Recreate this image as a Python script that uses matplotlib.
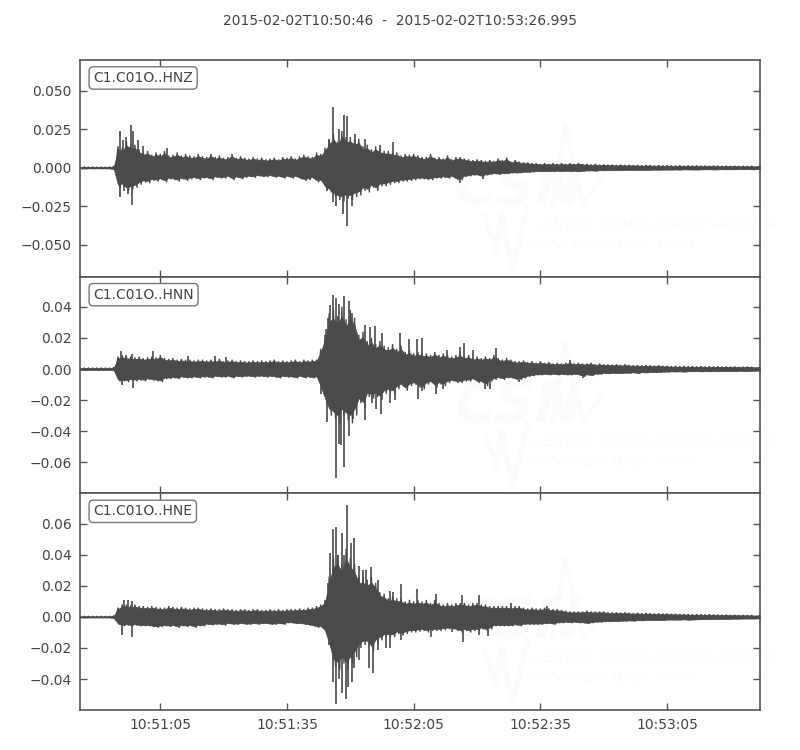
import numpy as np
import matplotlib
matplotlib.use("Agg")
import matplotlib.pyplot as plt

TITLE = "2015-02-02T10:50:46  -  2015-02-02T10:53:26.995"
CHANNELS = ["C1.C01O..HNZ", "C1.C01O..HNN", "C1.C01O..HNE"]
TICK_SECONDS = [19, 49, 79, 109, 139]
TICK_LABELS = ["10:51:05", "10:51:35", "10:52:05", "10:52:35", "10:53:05"]
DURATION = 160.995

# Peak envelope of each trace, one value per second, in units of 1e-3
HNZ_UP = [.4,.5,.4,.5,.4,.5,.4,.5,1.0,14,
 13,17,15,15,12,10,11,8.5,10,9,
 11,8,8.5,10,8,9,8,7.5,9,7.5,
 7,9,7,8,6.5,7,9,6.5,7.5,6.5,
 6,7,6,6.5,5.5,6,6.5,5.5,7,6.5,
 7.5,6,7.5,8.5,7.5,7,10,9,13,18,
 22,17,24,20,20,18,19,14,15,12,
 14,12,11,11,10,10,8,9,8.5,9,
 8,7,7,9,6.5,7,6,8,5.5,7,
 7,6,5.5,5,5.5,5,4.5,5,4.5,6,
 5,6.5,4,5,4,3.5,3.5,3,3,2.5,
 3,2.5,3,2.5,3,2.5,3,2.5,3.2,2.5,
 2.5,2.2,2.5,2,2.2,2,2,1.8,2,1.8,
 1.9,1.7,1.8,1.6,1.8,1.7,1.5,1.7,1.5,1.6,
 1.5,1.4,1.6,1.3,1.5,1.4,1.5,1.3,1.4,1.2,
 1.4,1.3,1.2,1.3,1.2,1.3,1.1,1.2,1.1,1.2,
 1.1]
HNZ_LO = [-.4,-.5,-.4,-.5,-.4,-.5,-.4,-.5,-1,-13,
 -12,-15,-14,-13,-11,-9.5,-10,-8.5,-9,-8,
 -9.5,-7.5,-8,-9,-7.5,-8.5,-7.5,-7,-8,-7,
 -7,-8,-6.5,-7,-7,-6,-8,-6.5,-7.5,-6.5,
 -6,-6.5,-5.5,-6,-6,-5.5,-6.5,-6,-7,-6,
 -7,-6,-7.5,-8.5,-8,-7,-9.5,-9,-14,-16,
 -19,-21,-22,-20,-21,-19,-18,-15,-16,-13,
 -15,-12,-12,-11,-10,-10,-9,-9,-8.5,-8,
 -7.5,-7.5,-8,-8,-7,-7,-6.5,-7,-6,-8,
 -8,-6,-5.5,-5,-5,-6,-5,-4.5,-4,-4.5,
 -4,-4,-3.5,-3.5,-3.5,-3,-3,-2.8,-2.5,-2.5,
 -2.5,-2.4,-2.5,-2.2,-2.5,-2.2,-2.4,-2.2,-2.6,-2.2,
 -2,-2,-2.2,-1.8,-1.9,-1.8,-1.8,-1.6,-1.8,-1.6,
 -1.7,-1.6,-1.6,-1.5,-1.6,-1.5,-1.4,-1.5,-1.4,-1.4,
 -1.4,-1.3,-1.4,-1.2,-1.3,-1.3,-1.4,-1.2,-1.2,-1.1,
 -1.3,-1.2,-1.1,-1.2,-1.1,-1.2,-1,-1.1,-1,-1.1,
 -1]
HNZ_PEAK_T = [9.4,10.2,11,12,12.6,13.8,15,20.5,59,60,61.3,62.4,63.1,65,67.5,71,74,
              9.5,10.5,11.4,12.2,58.5,60,60.7,62.2,63.1,64.5,90,95.5]
HNZ_PEAK_V = [23.8,18,20,28,24,18,14,13,19,39.6,25,34.6,34,22,19,15,17,
              -19,-15,-17,-24,-15,-22,-25,-30,-38,-25,-10,-7.5]

HNN_UP = [.7,.7,.7,.7,.7,.7,.7,.7,1,8,
 9,8,8,7.5,8,7,7.5,8,7.5,9,
 7,6.5,7,6,6.5,6,6,5.5,6,6,
 5.5,6,5.5,6.5,5,5.5,6,5,5.5,5,
 5,5.5,5,5.5,5,5.5,6,5,5.5,5,
 5.5,6,5,6,5.5,6,6,13,22,36,
 38,34,40,32,38,33,22,24,18,20,
 16,18,15,14,16,13,15,11,12,10,
 11,10,10,9,11,9,10,9,8,9,
 10,8,9,7,8,7,8,7,9,7,
 6,7,6,5,5,5.5,4.5,5,4,5,
 4,4.5,3.5,4,3.5,4,4.5,3.5,4,3.5,
 3.5,4,3,3.5,3,3,2.8,3,2.6,3,
 2.6,2.4,2.5,2.3,2.5,2.4,2.2,2.4,2,2,
 1.8,1.9,1.7,1.9,1.7,1.8,1.6,1.8,1.6,1.7,
 1.6,1.7,1.5,1.6,1.5,1.6,1.4,1.5,1.6,1.4,
 1.3]
HNN_LO = [-.7,-.7,-.7,-.7,-.7,-.7,-.7,-.7,-1,-8,
 -8,-8.5,-7.5,-8,-7.5,-8,-7,-7.5,-8,-8.5,
 -6.5,-6.5,-6,-6.5,-5.5,-6,-6,-5.5,-6,-5.5,
 -5.5,-6,-5,-5.5,-5.5,-5,-6,-5,-5.5,-5,
 -5,-5.5,-5,-5,-5.5,-5,-5.5,-6,-5,-5.5,
 -5.5,-6,-5,-6,-5.5,-6,-5.5,-13,-22,-30,
 -32,-35,-30,-33,-35,-30,-22,-25,-18,-19,
 -18,-20,-16,-15,-16,-13,-11,-14,-11,-10,
 -12,-13,-10,-9,-12,-10,-11,-9,-8,-9,
 -9,-8,-8,-7,-9,-9,-11,-8,-7,-6,
 -7,-6,-6,-7,-7,-6,-5,-4.5,-4,-4,
 -3.5,-4,-3.5,-4,-3.5,-4,-4,-3.5,-4,-5,
 -4,-4.5,-3.5,-3.5,-3,-3.2,-2.8,-3,-3,-2.8,
 -2.8,-2.5,-3,-2.4,-2.6,-2.2,-2.4,-2.2,-2,-2,
 -1.8,-1.9,-1.8,-2,-1.7,-1.7,-1.6,-1.8,-1.6,-1.7,
 -1.6,-1.7,-1.5,-1.6,-1.5,-1.6,-1.3,-1.4,-1.5,-1.3,
 -1.3]
HNN_PEAK_T = [9.7,11,12.3,17.3,25.5,32,34.5,58.3,58.7,59.3,59.8,60.6,61.3,62.5,63.7,64.4,67.4,68.7,69.9,71.5,75.7,77.8,79.7,81,87,90,91,93,98.6,116,
              10,12.5,57.1,58.4,60.5,61.3,61.8,62.5,63.7,64.7,67.4,69.2,70,71.3,73.3,74.5,80,81,84.4,86,96,97,104,119]
HNN_PEAK_V = [11.4,9,9.5,11.4,8.5,8.5,8,26,33,41,47.5,46,42,47,44,36,28.6,27,27.5,23,23,19,19,20,12.5,14,17,12,13.5,6,
              -10,-12,-16,-34,-70,-48,-49,-63,-43,-32,-33,-22,-26,-29,-22,-20,-19,-14,-16,-13,-13,-13,-8.4,-5.8]

HNE_UP = [.4,.4,.4,.4,.4,.4,.4,.4,.8,6,
 8,8,7.5,8,7,7,6.5,7,6.5,6,
 6,7,6.5,6,6.5,6,5.5,6,6,5.5,
 5,5.5,5,5,5.5,5,5,4.5,5,5,
 4.5,5,5,4.5,4.5,5,4.5,5,4.5,5,
 5,5,5.5,5,6,6,7,8,11,26,
 38,40,34,44,38,34,26,26,24,26,
 22,16,15,12,13,12,12,10,11,10,
 11,10,11,9,11,9,8,9,8,9,
 9,9,8,9,9,8,8,7,7,7,
 7,7,6.5,7,7,6,5.5,6,5.5,5.5,
 6,5.5,5,5,4.5,4,3.5,3.5,3.5,3.5,
 4,3.5,3.5,3.5,3.5,3,3,3,2.8,3,
 2.7,2.5,2.7,2.4,2.6,2.4,2.2,2.4,2.2,2.2,
 2,2,1.9,1.9,1.8,1.7,1.8,1.7,1.6,1.7,
 1.6,1.5,1.4,1.5,1.3,1.4,1.2,1.3,1.2,1.2,
 1.1]
HNE_LO = [-.4,-.4,-.4,-.4,-.4,-.4,-.4,-.4,-.8,-5,
 -6,-5.5,-6,-5.5,-6,-6,-6,-6.5,-7,-6.5,
 -6,-6.5,-6,-7,-6,-6.5,-6,-7,-6,-6,
 -5,-5.5,-5,-5,-5.5,-4.5,-5,-5,-4.5,-5,
 -5,-4.5,-5,-4.5,-4.5,-5,-5,-4.5,-5,-4,
 -4,-4.5,-4.5,-5,-5.5,-6,-7,-7,-10,-20,
 -32,-34,-30,-34,-30,-26,-20,-18,-18,-22,
 -17,-15,-13,-13,-13,-11,-12,-11,-10,-10,
 -9.5,-9,-10,-9,-9,-9,-8.5,-8,-8,-9,
 -10,-9,-10,-9,-9,-8,-9,-8,-6,-6,
 -6,-6,-6,-5.5,-6,-5,-5,-5,-5,-5,
 -4.5,-4.5,-5,-4,-4,-3.5,-4,-3.5,-4,-4,
 -4.5,-4,-3.5,-3.5,-3.2,-3.2,-3,-3,-2.8,-2.8,
 -2.6,-2.8,-2.4,-2.6,-2.2,-2.4,-2.2,-2.4,-2.2,-2,
 -2,-2,-2,-1.8,-2.1,-1.9,-1.8,-1.7,-1.6,-1.6,
 -1.5,-1.5,-1.4,-1.5,-1.4,-1.3,-1.3,-1.2,-1.2,-1.2,
 -1.1]
HNE_PEAK_T = [10.4,11.4,12.4,58.7,59.3,60,60.5,61,62,62.5,63.3,64.2,64.8,66,67,67.8,68.8,70.6,73.3,74,76,79.7,84.2,90.5,94.5,102,110.5,
              10,12.4,59,60,60.5,61.3,62,63,63.5,64.3,64.8,66,68.5,69.3,70.5,72.5,73.3,76,83,88,90.7,94.5,96.7]
HNE_PEAK_V = [11,11,10,21.7,41,57,58,40,54,40,72,48,51,33,30,30,32,24,17,16,21,18,15,14,14,9,7,
              -11.6,-13,-18,-42,-56,-40,-49,-53,-45,-42,-33,-28,-33,-36,-21,-20,-20,-15,-13,-10,-16,-11.6,-12]

SERIES = [(HNZ_UP, HNZ_LO, HNZ_PEAK_T, HNZ_PEAK_V),
          (HNN_UP, HNN_LO, HNN_PEAK_T, HNN_PEAK_V),
          (HNE_UP, HNE_LO, HNE_PEAK_T, HNE_PEAK_V)]
YLIMS = [(-0.0708, 0.0701), (-0.0800, 0.0594), (-0.0600, 0.0797)]
YTICKS = [[-0.05, -0.025, 0, 0.025, 0.05],
          [-0.06, -0.04, -0.02, 0, 0.02, 0.04],
          [-0.04, -0.02, 0, 0.02, 0.04, 0.06]]
YFMT = ["%.3f", "%.2f", "%.2f"]

INK = "#4a4a4a"
TXT = "#444444"
FRAME = "#555555"
WM = "#fbfbfb"
CORE = 0.85   # share of each envelope value that appears as the solid core

fig, axes = plt.subplots(3, 1, figsize=(8, 7.5), dpi=100, sharex=True)
fig.subplots_adjust(left=0.1, right=0.95, top=0.92, bottom=0.0533, hspace=0)
fig.text(0.5, 0.972, TITLE, ha="center", va="center", fontsize=10, color=TXT)


def watermark(ax):
    tr = ax.transAxes
    def px(x, y):
        return (x - 80) / 680.0, 1 - (y - 60) / 216.7
    kw = dict(transform=tr, color=WM, style="italic", zorder=0, clip_on=False)
    ax.text(*px(455, 205), "CSN", fontsize=41, fontweight="bold", ha="left", va="baseline", **kw)
    ax.text(*px(532, 229), "CENTRO SISMOLÓGICO NACIONAL", fontsize=10.5, family="Liberation Sans", ha="left", va="baseline", **kw)
    ax.text(*px(528, 249), "UNIVERSIDAD DE CHILE", fontsize=10.5, family="Liberation Sans", ha="left", va="baseline", **kw)
    a = [px(*p) for p in [(553, 205), (565, 125), (583, 205), (602, 177)]]
    ax.plot(*zip(*a), transform=tr, color=WM, lw=3.5, zorder=0, clip_on=False)
    b = [px(*p) for p in [(485, 217), (496, 250), (502, 215), (512, 270), (527, 208)]]
    ax.plot(*zip(*b), transform=tr, color=WM, lw=4, zorder=0, clip_on=False)


for i, ax in enumerate(axes):
    up, lo, pt, pv = SERIES[i]
    t = np.arange(len(up), dtype=float)
    t[-1] = DURATION
    up = np.array(up) * 1e-3
    lo = np.array(lo) * 1e-3
    watermark(ax)
    ax.fill_between(t, lo * CORE, up * CORE, color=INK, lw=0.5, zorder=2)
    # the trace: up-swing at each second, down-swing half a second later
    tx = np.column_stack([t, t + 0.5]).ravel()[:-1]
    ty = np.column_stack([up, lo]).ravel()[:-1]
    ax.plot(tx, ty, color=INK, lw=1.0, zorder=2, solid_joinstyle="miter")
    ax.vlines(pt, 0, np.array(pv) * 1e-3, color=INK, lw=1.2, zorder=2)
    ax.set_xlim(0, DURATION)
    ax.set_ylim(*YLIMS[i])
    ax.set_yticks(YTICKS[i])
    ax.set_yticklabels([(YFMT[i] % v).replace("-", "\u2212") for v in YTICKS[i]])
    ax.set_xticks(TICK_SECONDS)
    ax.set_xticklabels(TICK_LABELS)
    ax.tick_params(axis="both", direction="in", length=5, width=1, color=FRAME,
                   labelcolor=TXT, labelsize=10, top=True, right=True, pad=6)
    for s in ax.spines.values():
        s.set_color(FRAME)
        s.set_linewidth(1.2)
    ax.text(0.0195, 0.917, CHANNELS[i], transform=ax.transAxes, ha="left", va="center",
            fontsize=10, color=TXT, zorder=5,
            bbox=dict(boxstyle="round,pad=0.3", fc="white", ec="#777777", lw=1))
    if i < 2:
        ax.tick_params(axis="x", labelbottom=False)

fig.savefig("out.png", dpi=100)
